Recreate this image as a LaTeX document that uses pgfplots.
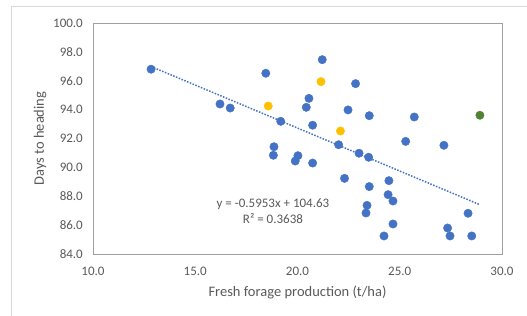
\documentclass[border=0pt]{standalone}
\usepackage{pgfplots}
\pgfplotsset{compat=1.18}
\usepackage{fontspec}
\setmainfont{Carlito}
\definecolor{xblue}{HTML}{4472C4}
\definecolor{xyellow}{HTML}{FFC000}
\definecolor{xgreen}{HTML}{548235}
\definecolor{txtgray}{HTML}{595959}
\definecolor{boxgray}{HTML}{A0A0A0}
\definecolor{framegray}{HTML}{D9D9D9}
\begin{document}
\begin{tikzpicture}
\path[use as bounding box] (-93bp,-62bp) rectangle (434bp,254bp);
\draw[color=framegray, line width=1bp] (-81bp,-62bp) -- (-81bp,247bp) -- (434bp,247bp);
\begin{axis}[
  at={(0,0)}, anchor=south west,
  scale only axis, width=409bp, height=231bp,
  xmin=10, xmax=30, ymin=84, ymax=100,
  xtick={10,15,20,25,30}, ytick={84,86,...,100},
  /pgf/number format/assume math mode=true,
  /pgf/number format/.cd, fixed, fixed zerofill, precision=1, /pgfplots/.cd,
  tick style={draw=none},
  axis line style={draw=boxgray, line width=0.9bp},
  ticklabel style={font=\fontsize{13bp}{15bp}\selectfont, text=txtgray, inner sep=0pt},
  xticklabel style={anchor=base, yshift=-21bp},
  yticklabel style={anchor=east, xshift=-10bp},
  xlabel={Fresh forage production (t/ha)},
  ylabel={Days to heading},
  label style={font=\fontsize{14.5bp}{17bp}\selectfont, text=txtgray},
  xlabel style={at={(axis description cs:0.5,0)}, anchor=center, yshift=-38bp},
  ylabel style={at={(axis description cs:-0.1296,0.5)}, anchor=center},
  clip=false,
]
\addplot[only marks, mark=*, mark size=4.2bp, mark options={fill=xblue, draw=xblue}] coordinates {
(12.84,96.80) (18.45,96.52) (21.21,97.46) (20.56,94.78) (20.43,94.16)
(16.21,94.39) (16.71,94.11) (19.18,93.19) (20.74,92.92) (18.85,91.43)
(22.84,95.80) (22.47,93.98) (23.51,93.58) (25.71,93.49) (22.01,91.57)
(25.29,91.80) (27.16,91.53) (18.82,90.84) (20.02,90.81) (19.89,90.44)
(20.74,90.30) (23.01,90.98) (23.48,90.70) (22.30,89.24) (23.51,88.67)
(24.47,89.08) (24.43,88.11) (24.67,87.67) (23.40,87.37) (23.35,86.84)
(24.67,86.08) (24.23,85.25) (28.34,86.82) (27.34,85.80) (27.46,85.25)
(28.52,85.25)
};
\addplot[only marks, mark=*, mark size=4.2bp, mark options={fill=xyellow, draw=xyellow}] coordinates {
(21.15,95.94) (18.57,94.25) (22.10,92.52)
};
\addplot[only marks, mark=*, mark size=4.2bp, mark options={fill=xgreen, draw=xgreen}] coordinates {
(28.92,93.61)
};
\addplot[xblue, line width=1.5bp, dash pattern=on 1.5bp off 1.5bp] coordinates {
(12.84,96.986) (28.92,87.414)
};
\node[font=\fontsize{13bp}{15bp}\selectfont, text=txtgray, align=center, inner sep=0pt]
  at (axis cs:18.8,87.0) {y = -0.5953x + 104.63\\[1bp]R² = 0.3638};
\end{axis}
\end{tikzpicture}
\end{document}
